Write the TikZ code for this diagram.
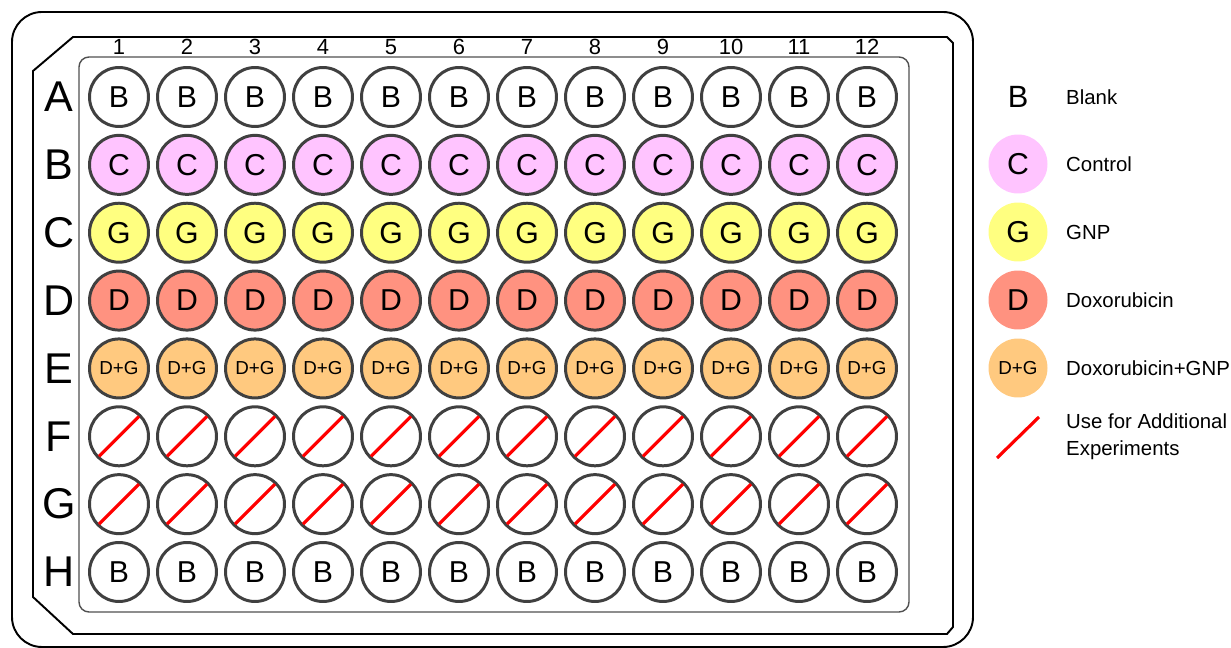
\documentclass[tikz,border=0pt]{standalone}
\usepackage{fontspec}
\setmainfont{Liberation Sans}
\usetikzlibrary{calc}
\definecolor{cpink}{HTML}{FFC4FF}
\definecolor{cyel}{HTML}{FFFF80}
\definecolor{csal}{HTML}{FF9280}
\definecolor{corg}{HTML}{FFC97F}
\definecolor{cwell}{HTML}{404040}
\definecolor{cinner}{HTML}{505050}
\tikzset{
  well/.style={circle, draw=cwell, line width=1.7pt, minimum size=1.18cm, inner sep=0pt, font=\fontsize{17.2}{19}\selectfont},
  dgfont/.style={font=\fontsize{10.7}{12}\selectfont},
  legsym/.style={circle, minimum size=1.18cm, inner sep=0pt, font=\fontsize{17.2}{19}\selectfont},
  legtxt/.style={anchor=west, font=\fontsize{11.6}{15.5}\selectfont, align=left},
  rowlab/.style={font=\fontsize{24.5}{26}\selectfont},
  collab/.style={font=\fontsize{12.5}{13}\selectfont},
  redline/.style={draw=red, line width=1.8pt},
  plate/.style={draw=black, line width=1.1pt},
}
\begin{document}
\begin{tikzpicture}[x=0.02cm, y=-0.02cm]
\useasboundingbox (0,0) rectangle (1231,648);
% outer plate
\draw[plate, rounded corners=0.6cm] (12,12) rectangle (973,647);
% middle chamfered border
\draw[plate] (73,37) -- (947,37) -- (953,43) -- (953,627) -- (947,634) -- (73,634) -- (33,597) -- (33,71) -- cycle;
% inner rounded rectangle
\draw[draw=cinner, line width=0.8pt, rounded corners=0.2cm] (79,57) rectangle (909,612);
% column labels
\foreach \c in {1,...,12}{
  \node[collab] (col\c) at ({119+68*(\c-1)},47) {\c};
}
% row labels
\foreach \r [count=\i] in {A,B,C,D,E,F,G,H}{
  \node[rowlab] (row\r) at (59,{97+67.86*(\i-1)}) {\r};
}
% wells
\foreach \c in {1,...,12}{
  \pgfmathsetmacro{\xx}{119+68*(\c-1)}
  \node[well, fill=white] (wA\c) at (\xx,97) {B};
  \node[well, fill=cpink] (wB\c) at (\xx,164.86) {C};
  \node[well, fill=cyel] (wC\c) at (\xx,232.72) {G};
  \node[well, fill=csal] (wD\c) at (\xx,300.58) {D};
  \node[well, fill=corg, dgfont] (wE\c) at (\xx,368.44) {D+G};
  \node[well, fill=white] (wF\c) at (\xx,436.3) {};
  \node[well, fill=white] (wG\c) at (\xx,504.16) {};
  \node[well, fill=white] (wH\c) at (\xx,572) {B};
  \draw[redline] ($(wF\c.center)+(-20,20)$) -- ($(wF\c.center)+(20,-20)$);
  \draw[redline] ($(wG\c.center)+(-20,20)$) -- ($(wG\c.center)+(20,-20)$);
}
% legend
\node[legsym, font=\fontsize{17.5}{19}\selectfont] (lB) at (1018,97) {B};
\node[legsym, fill=cpink] (lC) at (1018,164) {C};
\node[legsym, fill=cyel] (lG) at (1018,232) {G};
\node[legsym, fill=csal] (lD) at (1018,300) {D};
\node[legsym, fill=corg, dgfont] (lDG) at (1018,368) {D+G};
\coordinate (lL1) at (997,458);
\coordinate (lL2) at (1039,417);
\draw[redline] (lL1) -- (lL2);
\node[legtxt] (tB) at (1060,97) {Blank};
\node[legtxt] (tC) at (1060,164) {Control};
\node[legtxt] (tG) at (1060,232) {GNP};
\node[legtxt] (tD) at (1060,300) {Doxorubicin};
\node[legtxt] (tDG) at (1060,368) {Doxorubicin+GNP};
\node[legtxt] (tU) at (1060,437) {Use for Additional\\Experiments};
\end{tikzpicture}
\end{document}
